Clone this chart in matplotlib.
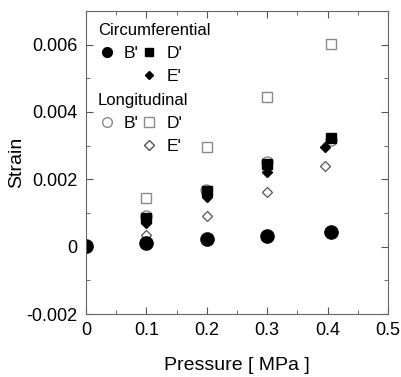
import matplotlib
matplotlib.use("Agg")
import matplotlib.pyplot as plt
from matplotlib.ticker import MultipleLocator
from matplotlib.lines import Line2D

plt.rcParams['font.family'] = ['Liberation Sans', 'DejaVu Sans']

# Data
circ_B_x = [0.0, 0.1, 0.2, 0.3, 0.405]
circ_B_y = [0.00002, 0.00010, 0.00022, 0.00033, 0.00045]
circ_D_x = [0.1, 0.2, 0.3, 0.405]
circ_D_y = [0.00084, 0.00166, 0.00246, 0.00324]
circ_E_x = [0.1, 0.2, 0.3, 0.395]
circ_E_y = [0.00071, 0.00147, 0.00223, 0.00296]
long_B_x = [0.0, 0.1, 0.198, 0.3, 0.405]
long_B_y = [-0.00002, 0.00090, 0.00168, 0.00250, 0.00318]
long_D_x = [0.1, 0.2, 0.3, 0.405]
long_D_y = [0.00145, 0.00297, 0.00445, 0.00603]
long_E_x = [0.1, 0.2, 0.3, 0.395]
long_E_y = [0.00034, 0.00091, 0.00163, 0.00241]

gray = '#8a8a8a'
fig = plt.figure(figsize=(4.01, 3.77), dpi=100)
ax = fig.add_axes([0.214, 0.167, 0.754, 0.804])

ax.plot(long_B_x, long_B_y, 'o', ms=8, mfc='white', mec=gray, mew=1.0, ls='none')
ax.plot(long_D_x, long_D_y, 's', ms=7.5, mfc='white', mec=gray, mew=1.0, ls='none')
ax.plot(long_E_x, long_E_y, 'D', ms=5.5, mfc='white', mec='#555555', mew=0.9, ls='none')
ax.plot(circ_B_x, circ_B_y, 'o', ms=9.5, color='black', ls='none')
ax.plot(circ_D_x, circ_D_y, 's', ms=7, color='black', ls='none')
ax.plot(circ_E_x, circ_E_y, 'D', ms=5, color='black', ls='none')

ax.set_xlim(0, 0.5)
ax.set_ylim(-0.002, 0.007)
ax.xaxis.set_minor_locator(MultipleLocator(0.05))
ax.yaxis.set_minor_locator(MultipleLocator(0.001))
ax.set_yticks([-0.002, 0, 0.002, 0.004, 0.006])
ax.set_yticklabels(['-0.002', '0', '0.002', '0.004', '0.006'])
ax.set_xticks([0, 0.1, 0.2, 0.3, 0.4, 0.5])
ax.set_xticklabels(['0', '0.1', '0.2', '0.3', '0.4', '0.5'])
ax.tick_params(which='both', direction='in', top=True, right=True, colors='#555555',
               labelcolor='black', labelsize=13, pad=6)
ax.tick_params(which='major', length=5)
ax.tick_params(which='minor', length=3)
for s in ax.spines.values():
    s.set_color('#666666')

ax.set_xlabel('Pressure [ MPa ]', fontsize=14, labelpad=13)
ax.set_ylabel('Strain', fontsize=14, labelpad=1)

blank = Line2D([], [], ls='none', marker=None)
l1 = ["B'", '', "D'", "E'"]
common = dict(ncol=2, loc='upper left', frameon=False, fontsize=12.5,
              title_fontsize=12, alignment='left', handlelength=1.0,
              handletextpad=0.5, columnspacing=0.1, labelspacing=0.45,
              borderaxespad=0.3)
h1 = [Line2D([], [], ls='none', marker='o', ms=7, color='black'), blank,
      Line2D([], [], ls='none', marker='s', ms=6, color='black'),
      Line2D([], [], ls='none', marker='D', ms=4.5, color='black')]
leg1 = ax.legend(h1, l1, title='Circumferential', bbox_to_anchor=(0.0, 1.0), **common)
ax.add_artist(leg1)
h2 = [Line2D([], [], ls='none', marker='o', ms=7, mfc='white', mec=gray), blank,
      Line2D([], [], ls='none', marker='s', ms=6.5, mfc='white', mec=gray),
      Line2D([], [], ls='none', marker='D', ms=5, mfc='white', mec='#555555')]
leg2 = ax.legend(h2, l1, title='Longitudinal', bbox_to_anchor=(0.0, 0.77), **common)

fig.savefig('out.png', dpi=100)
